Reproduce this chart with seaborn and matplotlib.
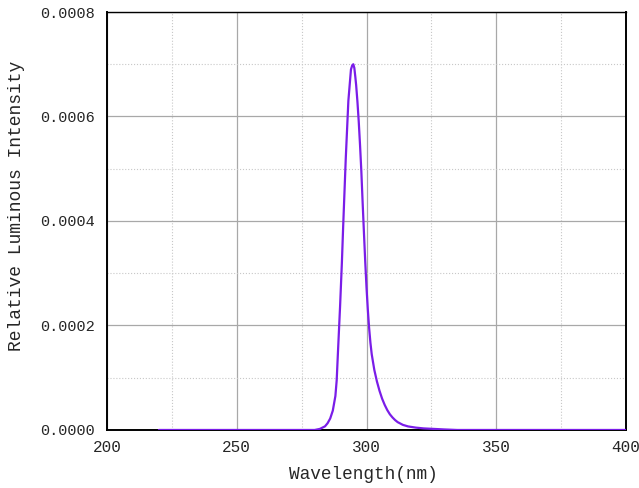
import pandas as pd
import numpy as np
import matplotlib.pyplot as plt
import seaborn as sns
from matplotlib.ticker import MultipleLocator

# ======== Data ========

wavelength = [220, 240, 260, 270, 280, 282, 284, 285, 286, 287, 288, 288.5, 289,
              289.8, 290.5, 291, 292, 293, 294, 294.5, 294.9, 295.3, 295.7, 296,
              296.5, 297, 297.5, 298, 298.5, 299, 299.5, 300, 300.5, 301, 301.5,
              302, 303, 304, 305, 306, 307, 308, 309, 310, 311, 312, 314, 316,
              319, 322, 326, 330, 335, 350, 400]
intensity = [0.0, 0.0, 0.0, 0.0, 0.0, 0.000002, 0.000007, 0.000013, 0.000022,
             0.000037, 0.000065, 0.000095, 0.00015, 0.000236, 0.00032, 0.00039,
             0.00052, 0.00063, 0.00069, 0.000698, 0.0007, 0.000693, 0.000675,
             0.00066, 0.000628, 0.00059, 0.000545, 0.000495, 0.000435, 0.000378,
             0.000322, 0.000272, 0.00023, 0.000195, 0.000167, 0.000145,
             0.000115, 0.000093, 0.000075, 0.00006, 0.000048, 0.000038,
             0.00003, 0.000024, 0.000019, 0.000015, 0.0000098, 0.0000068,
             0.0000045, 0.000003, 0.000002, 0.000001, 0.0, 0.0, 0.0]

x_ticks = [200, 250, 300, 350, 400]
y_ticks = [0.0, 0.0002, 0.0004, 0.0006, 0.0008]
y_tick_labels = ["0.0000", "0.0002", "0.0004", "0.0006", "0.0008"]

df = pd.DataFrame({"Wavelength": wavelength, "Intensity": intensity})

# ======== Plot ========

sns.set_style("white")
plt.rcParams['font.family'] = ['Liberation Mono', 'DejaVu Sans']

fig, ax = plt.subplots(figsize=(6.39, 4.88), dpi=100)
sns.lineplot(data=df, x="Wavelength", y="Intensity", ax=ax,
             color="#7a1de8", linewidth=1.6, zorder=3)

ax.set_xlim(200, 400)
ax.set_ylim(0, 0.0008)
ax.set_xticks(x_ticks)
ax.set_yticks(y_ticks)
ax.set_yticklabels(y_tick_labels)
ax.xaxis.set_minor_locator(MultipleLocator(25))
ax.yaxis.set_minor_locator(MultipleLocator(0.0001))

ax.grid(which="major", color="#a8a8a8", linestyle="-", linewidth=0.9)
ax.grid(which="minor", color="#c8c8c8", linestyle=":", linewidth=0.8)
ax.set_axisbelow(True)

ax.tick_params(axis="y", which="both", length=0, labelsize=11, pad=9)
ax.tick_params(axis="x", which="both", length=0, labelsize=11.5, pad=7)
for side in ["left", "bottom", "top", "right"]:
    ax.spines[side].set_color("black")
ax.spines["left"].set_linewidth(1.4)
ax.spines["bottom"].set_linewidth(1.4)
ax.spines["top"].set_linewidth(1.0)
ax.spines["right"].set_linewidth(1.4)

ax.set_xlabel("Wavelength(nm)", fontsize=12.8)
ax.set_ylabel("Relative Luminous Intensity", fontsize=13)
ax.xaxis.set_label_coords(0.493, -0.085)
ax.yaxis.set_label_coords(-0.158, 0.536)

plt.subplots_adjust(left=0.1675, right=0.9797, top=0.9754, bottom=0.1189)
plt.savefig("out.png", dpi=100)
